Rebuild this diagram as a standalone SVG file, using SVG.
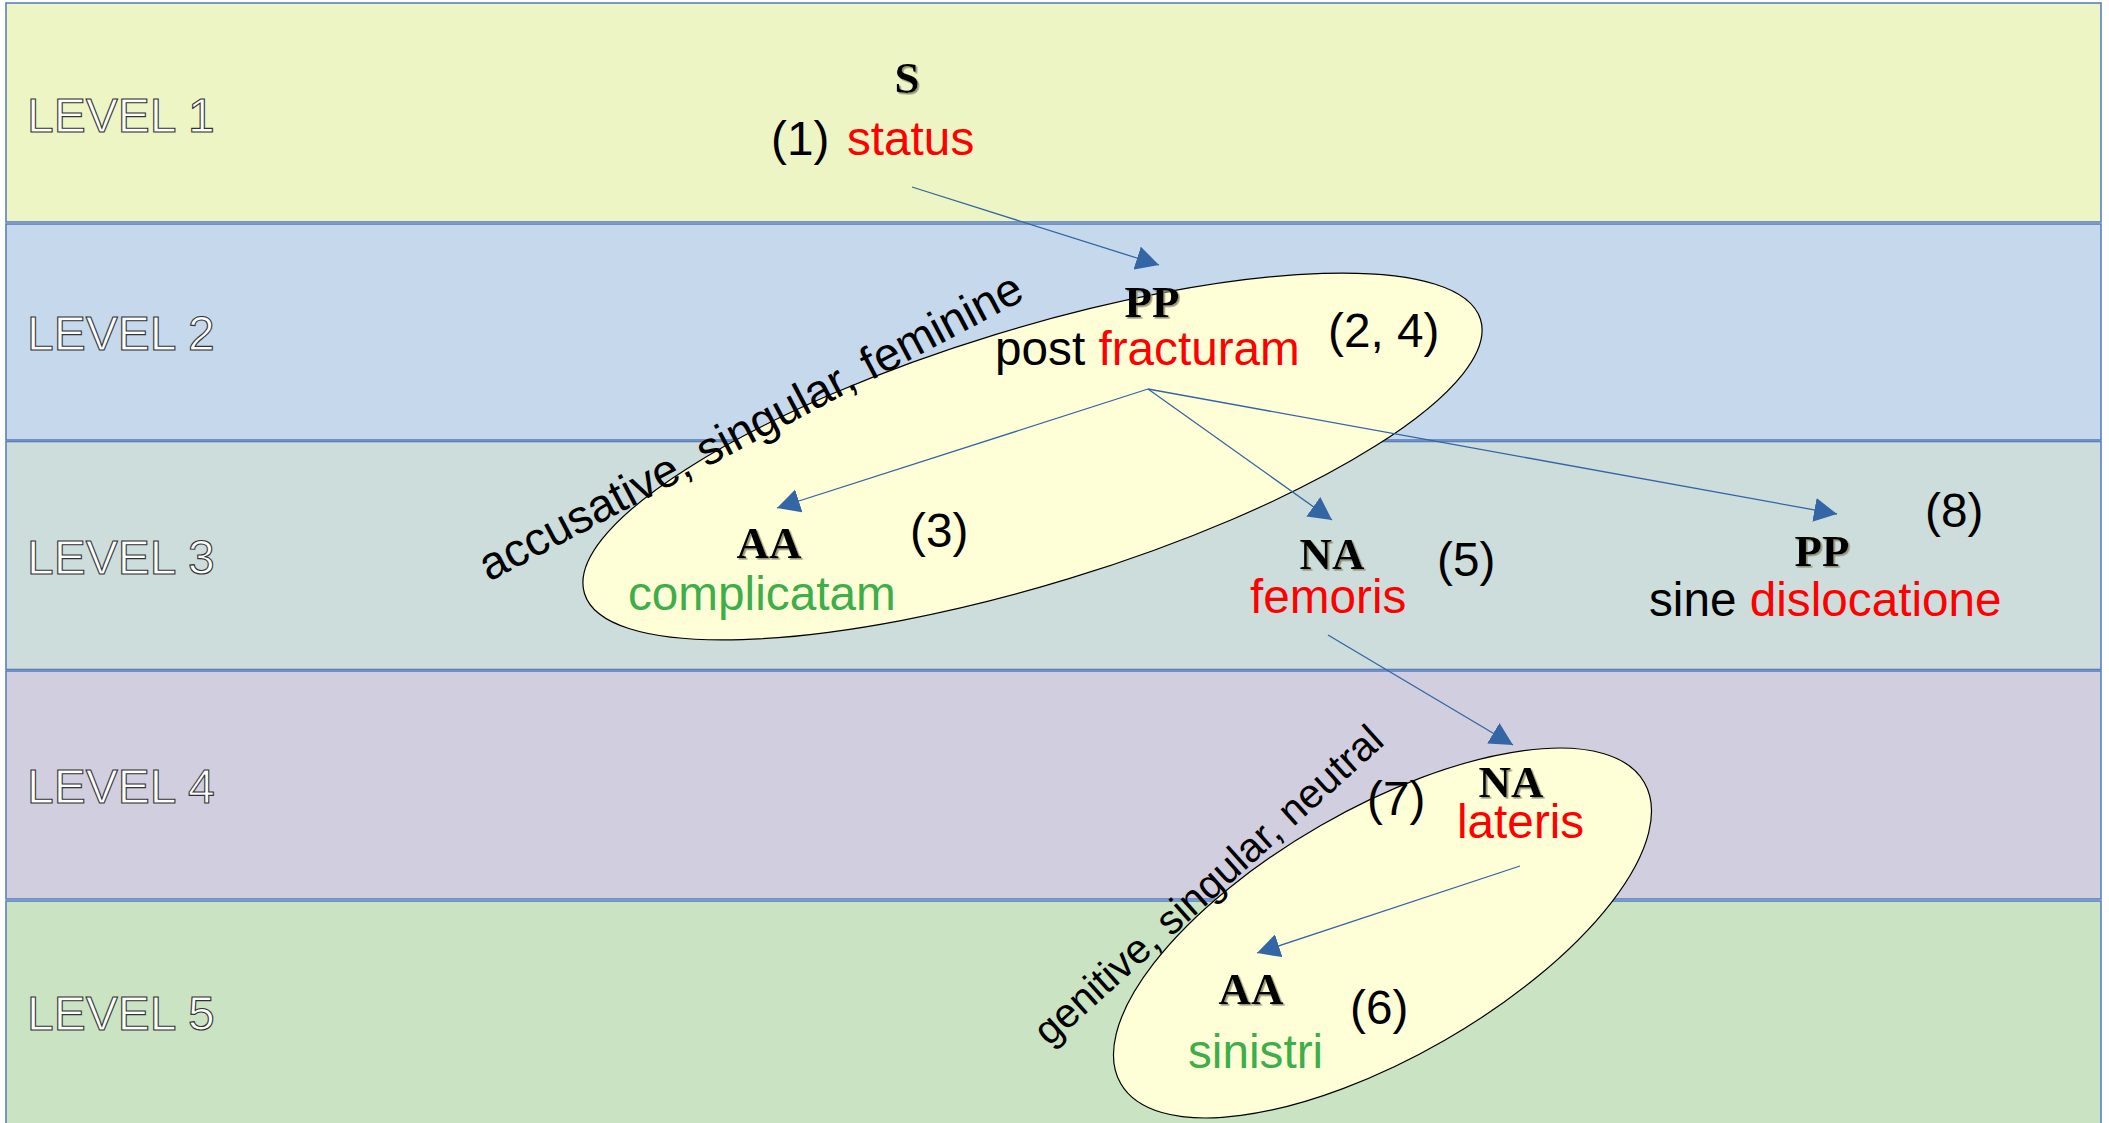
<svg xmlns="http://www.w3.org/2000/svg" width="2109" height="1123" viewBox="0 0 2109 1123">
  <style>
    .band { stroke: #5B80BE; stroke-width: 1.6; }
    .lvl { font-family: "Liberation Sans", Arial, sans-serif; font-size: 48px; fill: #FFFFFF; stroke: #333333; stroke-width: 1.1; }
    .t { font-family: "Liberation Sans", Arial, sans-serif; font-size: 47.7px; fill: #000000; }
    .red { fill: #FF0000; }
    .grn { fill: #3DAE49; }
    .cat { font-family: "Liberation Serif", "Times New Roman", serif; font-size: 45px; font-weight: bold; fill: #000000; text-anchor: middle; filter: url(#sh); }
    .ell { fill: #FFFFD7; stroke: #000000; stroke-width: 1.2; }
    .con { stroke: #3465A4; stroke-width: 1.3; fill: none; marker-end: url(#ah); }
    .rot { font-family: "Liberation Sans", Arial, sans-serif; fill: #000000; }
  </style>
  <defs>
    <marker id="ah" markerUnits="userSpaceOnUse" markerWidth="24" markerHeight="24" viewBox="0 0 22 22" refX="21" refY="11" orient="auto">
      <path d="M0,0 L21,11 L0,22 Z" fill="#3465A4"/>
    </marker>
    <filter id="sh" x="-10%" y="-10%" width="130%" height="130%">
      <feDropShadow dx="1.6" dy="1.6" stdDeviation="0" flood-color="#8a8a6a" flood-opacity="0.9"/>
    </filter>
  </defs>

  <g id="levels">
    <g id="level1">
      <rect class="band" x="6" y="3" width="2095" height="219" fill="#EDF5C5"/>
      <text class="lvl" x="27" y="132">LEVEL 1</text>
    </g>
    <g id="level2">
      <rect class="band" x="6" y="224" width="2095" height="216" fill="#C5D8EC"/>
      <text class="lvl" x="27" y="350">LEVEL 2</text>
    </g>
    <g id="level3">
      <rect class="band" x="6" y="441.5" width="2095" height="228" fill="#CCDDDC"/>
      <text class="lvl" x="27" y="574">LEVEL 3</text>
    </g>
    <g id="level4">
      <rect class="band" x="6" y="671" width="2095" height="228" fill="#D1CFDF"/>
      <text class="lvl" x="27" y="803">LEVEL 4</text>
    </g>
    <g id="level5">
      <rect class="band" x="6" y="901" width="2095" height="230" fill="#C9E3C3"/>
      <text class="lvl" x="27" y="1030">LEVEL 5</text>
    </g>
  </g>

  <g id="groups">
    <ellipse id="group-accusative" class="ell" cx="1032.5" cy="456.5" rx="468.5" ry="127.5" transform="rotate(-17 1032.5 456.5)"/>
    <text class="rot" font-size="46.5" transform="translate(489 582) rotate(-27.8)">accusative, singular, feminine</text>
    <ellipse id="group-genitive" class="ell" cx="1382.5" cy="933" rx="302" ry="124" transform="rotate(-29.9 1382.5 933)"/>
    <text class="rot" font-size="41" transform="translate(1049 1047) rotate(-42)">genitive, singular, neutral</text>
  </g>

  <g id="connectors">
    <line class="con" x1="912" y1="187" x2="1159" y2="265"/>
    <line class="con" x1="1148" y1="389" x2="777" y2="508"/>
    <line class="con" x1="1148" y1="389" x2="1332" y2="520"/>
    <line class="con" x1="1148" y1="389" x2="1837" y2="514"/>
    <line class="con" x1="1328" y1="635" x2="1513" y2="745"/>
    <line class="con" x1="1520" y1="866" x2="1257" y2="953"/>
  </g>

  <g id="node-S">
    <text class="cat" x="907" y="93" font-size="48">S</text>
    <text class="t" x="771" y="155">(1)</text>
    <text class="t red" x="847" y="155">status</text>
  </g>
  <g id="node-PP-post">
    <text class="cat" x="1152" y="317">PP</text>
    <text class="t" x="995" y="365">post <tspan class="red">fracturam</tspan></text>
    <text class="t" x="1328" y="347">(2, 4)</text>
  </g>
  <g id="node-AA-complicatam">
    <text class="cat" x="769" y="558">AA</text>
    <text class="t" x="910" y="547">(3)</text>
    <text class="t grn" x="628" y="610">complicatam</text>
  </g>
  <g id="node-NA-femoris">
    <text class="cat" x="1332" y="569">NA</text>
    <text class="t" x="1437" y="576">(5)</text>
    <text class="t red" x="1250" y="613">femoris</text>
  </g>
  <g id="node-PP-sine">
    <text class="cat" x="1822" y="566">PP</text>
    <text class="t" x="1925" y="527">(8)</text>
    <text class="t" x="1649" y="616">sine <tspan class="red">dislocatione</tspan></text>
  </g>
  <g id="node-NA-lateris">
    <text class="cat" x="1511" y="797">NA</text>
    <text class="t" x="1367" y="815">(7)</text>
    <text class="t red" x="1457" y="838">lateris</text>
  </g>
  <g id="node-AA-sinistri">
    <text class="cat" x="1251" y="1004">AA</text>
    <text class="t" x="1350" y="1024">(6)</text>
    <text class="t grn" x="1188" y="1068">sinistri</text>
  </g>
</svg>
